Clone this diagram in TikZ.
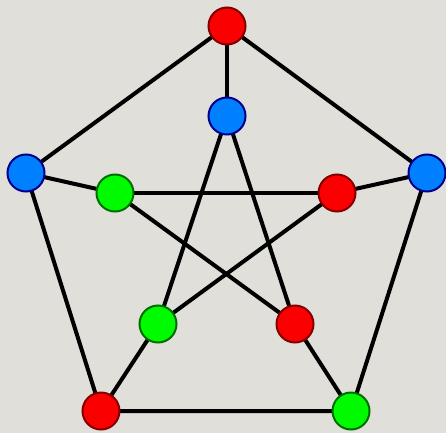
\documentclass[tikz,border=0pt]{standalone}
\usetikzlibrary{backgrounds}
\definecolor{bgc}{RGB}{224,223,217}
\definecolor{rfill}{RGB}{250,0,0}
\definecolor{rdraw}{RGB}{130,0,0}
\definecolor{bfill}{RGB}{0,128,255}
\definecolor{bdraw}{RGB}{0,0,140}
\definecolor{gfill}{RGB}{0,250,0}
\definecolor{gdraw}{RGB}{0,110,0}
\pgfdeclarelayer{paper}
\pgfsetlayers{paper,background,main}
\begin{document}
\begin{tikzpicture}[x=1pt,y=-1pt,
  vert/.style={circle,minimum size=37pt,inner sep=0pt,line width=2pt},
  rv/.style={vert,fill=rfill,draw=rdraw},
  bv/.style={vert,fill=bfill,draw=bdraw},
  gv/.style={vert,fill=gfill,draw=gdraw},
  edge/.style={line width=4pt,black}]
\begin{pgfonlayer}{paper}
\fill[bgc] (0,0) rectangle (446,433);
\end{pgfonlayer}
\useasboundingbox (0,0) rectangle (446,433);
% outer
\node[rv] (o1) at (227,26) {};
\node[bv] (o2) at (26,173) {};
\node[bv] (o3) at (427,173) {};
\node[rv] (o4) at (101,411) {};
\node[gv] (o5) at (351,411) {};
% inner
\node[bv] (i1) at (227,116) {};
\node[gv] (i2) at (115,193) {};
\node[rv] (i3) at (337,193) {};
\node[gv] (i4) at (158,324) {};
\node[rv] (i5) at (295,324) {};
\begin{pgfonlayer}{background}
\draw[edge] (o1.center) -- (o2.center) -- (o4.center) -- (o5.center) -- (o3.center) -- (o1.center);
\draw[edge] (o1.center) -- (i1.center);
\draw[edge] (o2.center) -- (i2.center);
\draw[edge] (o3.center) -- (i3.center);
\draw[edge] (o4.center) -- (i4.center);
\draw[edge] (o5.center) -- (i5.center);
\draw[edge] (i1.center) -- (i4.center);
\draw[edge] (i1.center) -- (i5.center);
\draw[edge] (i2.center) -- (i3.center);
\draw[edge] (i2.center) -- (i5.center);
\draw[edge] (i3.center) -- (i4.center);
\end{pgfonlayer}
\end{tikzpicture}
\end{document}
